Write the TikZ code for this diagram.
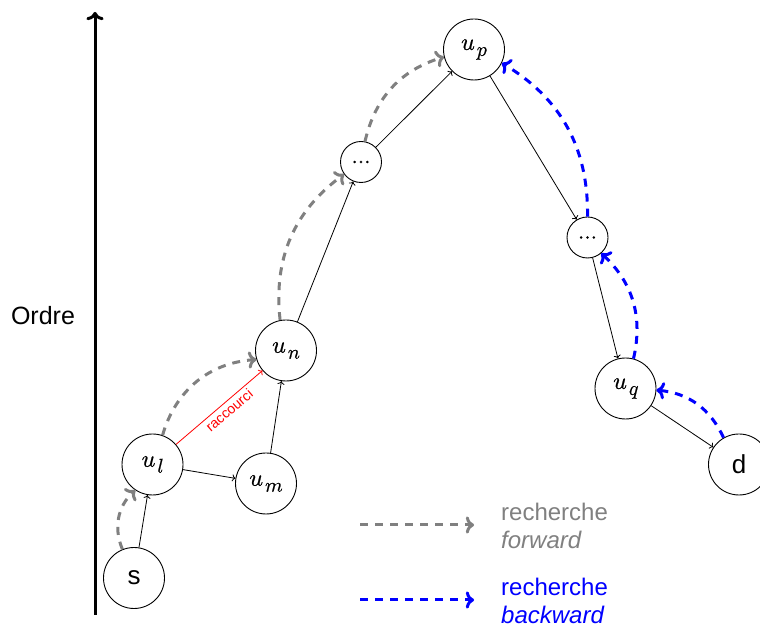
\documentclass[tikz,border=0pt]{standalone}
\usepackage{fontspec}
\setmainfont{Liberation Sans}
\newfontfamily\lmmath{latinmodern-math.otf}[AutoFakeBold=0.7]
\newcommand\nodelab[2]{{\lmmath\bfseries\fontsize{24}{28}\selectfont\char"#1\kern2pt\raisebox{-6pt}{\fontsize{20}{24}\selectfont\char"#2}}}
\usetikzlibrary{arrows.meta}
\begin{document}
\begin{tikzpicture}[x=1pt,y=1pt,
  vtx/.style={circle,draw,line width=0.9pt,minimum size=61pt,inner sep=0pt,font=\fontsize{26}{30}\selectfont},
  small/.style={circle,draw,line width=0.9pt,minimum size=41pt,inner sep=0pt,font=\lmmath\bfseries\fontsize{23}{26}\selectfont},
  edge/.style={->,line width=0.8pt},
  fwd/.style={->,gray,line width=3pt,dash pattern=on 8pt off 7pt},
  bwd/.style={->,blue,line width=3pt,dash pattern=on 8pt off 7pt},
  legtxt/.style={anchor=west,align=left,inner sep=0pt,font=\fontsize{24}{28}\selectfont}
]
\useasboundingbox (0,0) rectangle (760,628);

% axis
\coordinate (ax0) at (95,13);
\coordinate (ax1) at (95,616);
\draw[->,line width=3pt] (ax0) -- (ax1);
\node[font=\fontsize{25}{28}\selectfont] (ordre) at (43,312) {Ordre};

% nodes
\node[vtx]  (s)  at (134,50)      {s};
\node[vtx]  (ul) at (152.5,163.5) {\nodelab{1D462}{1D459}};
\node[vtx]  (um) at (266,144.5)   {\nodelab{1D462}{1D45A}};
\node[vtx]  (un) at (286,277.5)   {\nodelab{1D462}{1D45B}};
\node[small] (d1) at (361,466)    {...};
\node[vtx]  (up) at (474,578.5)   {\nodelab{1D462}{1D45D}};
\node[small] (d2) at (587.5,390.5){...};
\node[vtx]  (uq) at (625.5,239.5) {\nodelab{1D462}{1D45E}};
\node[vtx]  (d)  at (739,163.5)   {d};

% edges
\draw[edge] (s) -- (ul);
\draw[edge] (ul) -- (um);
\draw[edge] (um) -- (un);
\draw[edge] (un) -- (d1);
\draw[edge] (d1) -- (up);
\draw[edge] (up) -- (d2);
\draw[edge] (d2) -- (uq);
\draw[edge] (uq) -- (d);
\draw[edge,red] (ul) -- node[pos=0.55,sloped,below=2pt,inner sep=1pt,font=\fontsize{14}{16}\selectfont] (rl) {raccourci} (un);

% forward search
\draw[fwd] (s.112) to[bend left=35] (ul.236);
\draw[fwd] (ul.71) to[bend left=35] (un.197);
\draw[fwd] (un.101) to[bend left=30] (d1.216);
\draw[fwd] (d1.79) to[bend left=30] (up.194);

% backward search
\draw[bwd] (d.120) to[bend right=30] (uq.357);
\draw[bwd] (uq.75) to[bend right=30] (d2.311);
\draw[bwd] (d2.90) to[bend right=30] (up.334);

% legend
\coordinate (lf0) at (360,103);
\coordinate (lf1) at (474,103);
\coordinate (lb0) at (360,28);
\coordinate (lb1) at (474,28);
\draw[fwd] (lf0) -- (lf1);
\draw[bwd] (lb0) -- (lb1);
\node[legtxt,text=gray] (lft) at (501,102) {recherche\\\textit{forward}};
\node[legtxt,text=blue] (lbt) at (501,27) {recherche\\\textit{backward}};
\end{tikzpicture}
\end{document}
